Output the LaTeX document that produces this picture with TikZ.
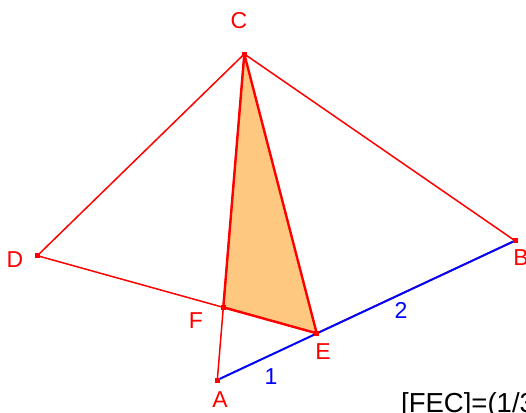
\documentclass[tikz,border=0pt]{standalone}
\usepackage{fontspec}
\setmainfont{Liberation Sans}
\definecolor{gred}{RGB}{255,0,0}
\definecolor{gblue}{RGB}{0,0,255}
\definecolor{gfill}{RGB}{255,200,128}
\begin{document}
\begin{tikzpicture}[x=1pt,y=-1pt,
  seg/.style={gred,line width=1.5pt},
  thick seg/.style={gred,line width=2.4pt},
  blueseg/.style={gblue,line width=2pt},
  pt/.style={fill=gred,inner sep=0pt,minimum size=5pt,rectangle},
  lab/.style={gred,font=\fontsize{23}{26}\selectfont,inner sep=0pt},
  bluelab/.style={gblue,font=\fontsize{23}{26}\selectfont,inner sep=0pt}]
\useasboundingbox (0,0) rectangle (526,412);
\clip (0,0) rectangle (526,412);
\coordinate (A) at (217.3,380);
\coordinate (B) at (515,240.7);
\coordinate (C) at (244.3,54);
\coordinate (D) at (37.3,255.7);
\coordinate (E) at (316.7,333.3);
\coordinate (F) at (223.3,307.3);
\fill[gfill] (F) -- (E) -- (C) -- cycle;
\draw[seg] (D) -- (C) -- (B);
\draw[seg] (D) -- (E);
\draw[seg] (A) -- (C);
\draw[seg] (E) -- (B);
\draw[blueseg] (A) -- (B);
\draw[thick seg,line join=round] (F) -- (E) -- (C) -- cycle;
\foreach \p in {A,B,C,D,E,F} \node[pt] at (\p) {};
\node[lab] (lC) at (239,20.5) {C};
\node[lab] (lD) at (15,260) {D};
\node[lab] (lB) at (521,258) {B};
\node[lab] (lA) at (220,400) {A};
\node[lab] (lF) at (196,321) {F};
\node[lab] (lE) at (323,352) {E};
\node[bluelab] (l1) at (271,377) {1};
\node[bluelab] (l2) at (401,310) {2};
\node[anchor=north west,inner sep=0pt,font=\fontsize{27.5}{30}\selectfont] (t) at (401,392) {[FEC]=(1/3)[ABCD]};
\end{tikzpicture}
\end{document}
